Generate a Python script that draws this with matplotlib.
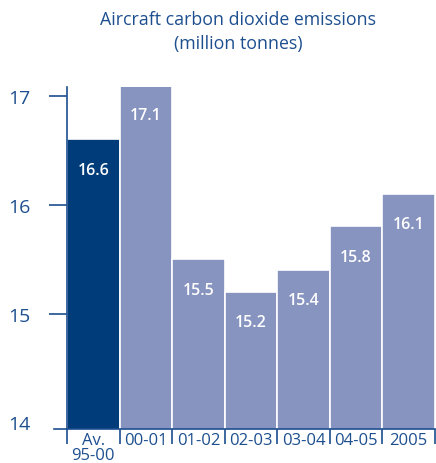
import numpy as np
import matplotlib.pyplot as plt

plt.rcParams['font.family'] = ['Open Sans', 'DejaVu Sans']

# emissions by period, million tonnes
periods = ["Av.\n95-00", "00-01", "01-02", "02-03", "03-04", "04-05", "2005"]
emissions = [16.6, 17.1, 15.5, 15.2, 15.4, 15.8, 16.1]
bar_colors = ["#003b7a"] + ["#8794c0"] * 6
text_color = "#1d4f8f"
y_ticks = [14, 15, 16, 17]

fig = plt.figure(figsize=(4.36, 4.64), dpi=100)
ax = fig.add_axes([67 / 436, 34 / 464, 368 / 436, 342 / 464])

x = np.arange(len(periods))
ax.bar(x, emissions, width=1.0, bottom=0, color=bar_colors,
       edgecolor="white", linewidth=1.2, zorder=2)

for xi, v in zip(x, emissions):
    ax.text(xi, v - 0.28, f"{v:.1f}", ha="center", va="center",
            color="white", fontsize=11.5, fontweight="semibold", zorder=3)

ax.set_xlim(-0.5, len(periods) - 0.5)
ax.set_ylim(13.94, 17.08)

for side in ["top", "right"]:
    ax.spines[side].set_visible(False)
for side in ["left", "bottom"]:
    ax.spines[side].set_color(text_color)
    ax.spines[side].set_linewidth(1.2)

# y axis
ax.set_yticks(y_ticks)
ax.set_yticklabels([str(t) for t in y_ticks])
ax.tick_params(axis="y", direction="out", length=13, width=1.2,
               color=text_color, labelcolor=text_color, labelsize=14, pad=13)
ax.yaxis.get_major_ticks()[0].tick1line.set_visible(False)
ax.plot([-13 / 368, 0], [0, 0], transform=ax.transAxes, color=text_color,
        lw=1.2, clip_on=False, zorder=4)

# x axis: ticks at bar boundaries, labels centred under bars
ax.set_xticks(x)
ax.set_xticklabels(periods, linespacing=0.95)
ax.set_xticks(np.arange(len(periods) + 1) - 0.5, minor=True)
ax.tick_params(axis="x", which="major", length=0, pad=2,
               labelcolor=text_color, labelsize=12)
ax.tick_params(axis="x", which="minor", direction="out", length=11,
               width=1.2, color=text_color)

fig.text(238 / 436, 1 - 20 / 464, "Aircraft carbon dioxide emissions",
         ha="center", va="center", color=text_color, fontsize=12.8)
fig.text(238 / 436, 1 - 44 / 464, "(million tonnes)",
         ha="center", va="center", color=text_color, fontsize=12.8)

fig.savefig("out.png", dpi=100)
